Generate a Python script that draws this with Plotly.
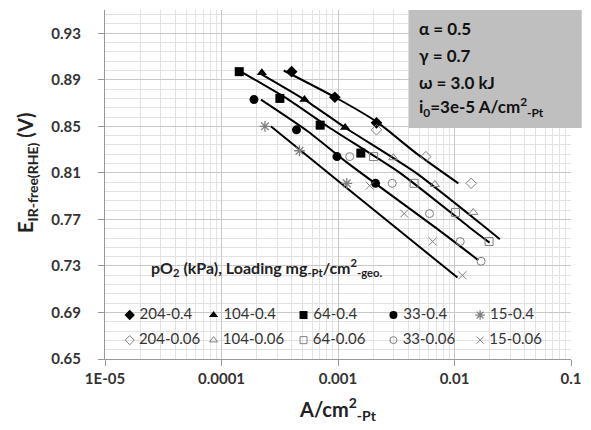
import plotly.graph_objects as go

# Measured polarization data: current density (A/cm2-Pt) vs IR-free potential (V vs RHE)
x_204_04 = [4.0e-4, 9.4e-4, 2.14e-3]
e_204_04 = [0.897, 0.875, 0.853]
x_104_04 = [2.22e-4, 5.15e-4, 1.15e-3]
e_104_04 = [0.896, 0.873, 0.849]
x_64_04 = [1.42e-4, 3.17e-4, 7.03e-4, 1.57e-3]
e_64_04 = [0.897, 0.874, 0.851, 0.827]
x_33_04 = [1.9e-4, 4.4e-4, 9.8e-4, 2.1e-3]
e_33_04 = [0.873, 0.847, 0.824, 0.801]
x_15_04 = [2.36e-4, 4.67e-4, 1.19e-3]
e_15_04 = [0.850, 0.829, 0.801]

x_204_006 = [2.14e-3, 5.68e-3, 1.39e-2]
e_204_006 = [0.847, 0.824, 0.801]
x_104_006 = [2.98e-3, 6.78e-3, 1.45e-2]
e_104_006 = [0.823, 0.800, 0.776]
x_64_006 = [2.02e-3, 4.5e-3, 1.02e-2, 1.98e-2]
e_64_006 = [0.824, 0.801, 0.776, 0.751]
x_33_006 = [1.26e-3, 2.92e-3, 6.1e-3, 1.12e-2, 1.69e-2]
e_33_006 = [0.824, 0.801, 0.775, 0.751, 0.734]
x_15_006 = [1.87e-3, 3.7e-3, 6.5e-3, 1.17e-2]
e_15_006 = [0.799, 0.775, 0.751, 0.722]

# Model curves, one per O2 partial pressure
mx_204 = [3.42e-4, 9.44e-4, 2.14e-3, 4.67e-3, 1.08e-2]
me_204 = [0.898, 0.875, 0.854, 0.827, 0.801]
mx_104 = [2.1e-4, 5.15e-4, 1.15e-3, 4.67e-3, 1.9e-2, 2.45e-2]
me_104 = [0.896, 0.873, 0.849, 0.810, 0.762, 0.753]
mx_64 = [1.53e-4, 3.76e-4, 8.4e-4, 3.4e-3, 1.39e-2, 2.0e-2]
me_64 = [0.896, 0.873, 0.849, 0.810, 0.762, 0.750]
mx_33 = [2.18e-4, 5.46e-4, 1.19e-3, 7.3e-3, 1.6e-2]
me_33 = [0.873, 0.846, 0.819, 0.761, 0.735]
mx_15 = [2.65e-4, 1.19e-3, 1.06e-2]
me_15 = [0.850, 0.797, 0.720]

x_tickvals = [1e-5, 1e-4, 1e-3, 1e-2, 1e-1]
x_ticktext = ["1E-05", "0.0001", "0.001", "0.01", "0.1"]
y_tickvals = [0.65, 0.69, 0.73, 0.77, 0.81, 0.85, 0.89, 0.93]

FONT = "Lato"
GRAY = "#808080"

fig = go.Figure()

for mx, me in [(mx_204, me_204), (mx_104, me_104), (mx_64, me_64),
               (mx_33, me_33), (mx_15, me_15)]:
    fig.add_trace(go.Scatter(
        x=mx, y=me, mode="lines",
        line=dict(color="black", width=2, shape="spline", smoothing=0.6),
        showlegend=False, hoverinfo="skip"))

series = [
    ("204-0.4", x_204_04, e_204_04, "diamond", 9, "black", "black", 0),
    ("104-0.4", x_104_04, e_104_04, "triangle-up", 9, "black", "black", 0),
    ("64-0.4", x_64_04, e_64_04, "square", 9, "black", "black", 0),
    ("33-0.4", x_33_04, e_33_04, "circle", 9, "black", "black", 0),
    ("15-0.4", x_15_04, e_15_04, "asterisk-open", 9, GRAY, GRAY, 1.3),
    ("204-0.06", x_204_006, e_204_006, "diamond-open", 8, GRAY, GRAY, 1),
    ("104-0.06", x_104_006, e_104_006, "triangle-up-open", 8, GRAY, GRAY, 1),
    ("64-0.06", x_64_006, e_64_006, "square-open", 8, GRAY, GRAY, 1),
    ("33-0.06", x_33_006, e_33_006, "circle-open", 8, GRAY, GRAY, 1),
    ("15-0.06", x_15_006, e_15_006, "x-thin-open", 8, GRAY, GRAY, 1),
]
for name, xs, es, sym, size, col, lcol, lw in series:
    fig.add_trace(go.Scatter(
        x=xs, y=es, mode="markers", name=name, showlegend=False,
        marker=dict(symbol=sym, size=size, color=col, line=dict(color=lcol, width=lw))))

# Legend keys: five columns, two rows, drawn on an overlay axis spanning the plot area
key_cols = [0.053, 0.233, 0.426, 0.619, 0.805]
key_rows = [0.126, 0.054]
for i, (name, xs, es, sym, size, col, lcol, lw) in enumerate(series):
    fig.add_trace(go.Scatter(
        x=[key_cols[i % 5]], y=[key_rows[i // 5]], xaxis="x2", yaxis="y2",
        mode="markers+text", text=[" " + name], textposition="middle right",
        textfont=dict(family=FONT, size=15, color="#333333"),
        marker=dict(symbol=sym, size=size - 1, color=col, line=dict(color=lcol, width=lw)),
        showlegend=False, hoverinfo="skip", cliponaxis=False))

axis_font = dict(family=FONT, size=15, color="#333333", weight="bold")

fig.update_layout(
    width=591, height=430,
    margin=dict(l=105, r=14, t=10, b=71),
    paper_bgcolor="white", plot_bgcolor="white",
    font=dict(family=FONT),
    showlegend=False,
    xaxis=dict(
        type="log", range=[-5, -1], tickvals=x_tickvals, ticktext=x_ticktext,
        tickfont=axis_font, ticks="outside", ticklen=6, tickcolor="#999999",
        showline=True, linecolor="#999999", linewidth=1,
        showgrid=True, gridcolor="#c8c8c8", gridwidth=1,
        minor=dict(dtick="D1", showgrid=True, gridcolor="#e2e2e2", ticks=""),
        zeroline=False,
        title=dict(text="<b>A/cm<sup>2</sup><sub>-Pt</sub></b>",
                   font=dict(family=FONT, size=20, color="#222222"), standoff=16),
    ),
    yaxis=dict(
        range=[0.65, 0.95], tickvals=y_tickvals, tickformat=".2f",
        tickfont=axis_font, ticks="outside", ticklen=6, tickcolor="#999999",
        ticklabelstandoff=14,
        showline=True, linecolor="#999999", linewidth=1,
        showgrid=True, gridcolor="#c8c8c8", gridwidth=1,
        minor=dict(dtick=0.008, tick0=0.65, showgrid=True, gridcolor="#e2e2e2", ticks=""),
        zeroline=False,
    ),
    xaxis2=dict(overlaying="x", anchor="y2", range=[0, 1], visible=False, fixedrange=True),
    yaxis2=dict(overlaying="y", anchor="x2", range=[0, 1], visible=False, fixedrange=True),
)

# Vertical axis title
fig.add_annotation(
    text="<b>E<sub>IR-free(RHE)</sub> (V)</b>", textangle=-90,
    xref="paper", yref="paper", x=-0.168, y=0.535, xanchor="center", yanchor="middle",
    showarrow=False, font=dict(family=FONT, size=20, color="#222222"))

# Parameter box in the upper right corner
fig.add_shape(type="rect", xref="paper", yref="paper",
              x0=0.652, x1=1.023, y0=0.662, y1=1.0,
              fillcolor="#bfbfbf", line=dict(width=0), layer="above")
params = ["α = 0.5", "γ = 0.7", "ω = 3.0 kJ",
          "i<sub>0</sub>=3e-5 A/cm<sup>2</sup><sub>-Pt</sub>"]
params_y = [0.947, 0.870, 0.793, 0.722]
for txt, py in zip(params, params_y):
    fig.add_annotation(text="<b>" + txt + "</b>", xref="paper", yref="paper",
                       x=0.67, y=py, xanchor="left", yanchor="middle", showarrow=False,
                       font=dict(family=FONT, size=17, color="#111111"))

fig.add_annotation(
    text="<b>pO<sub>2</sub> (kPa), Loading mg<sub>-Pt</sub>/cm<sup>2</sup><sub>-geo.</sub></b>",
    xref="paper", yref="paper", x=0.095, y=0.263, xanchor="left", yanchor="middle",
    showarrow=False, font=dict(family=FONT, size=16, color="#222222"))

fig.write_html("out.html")
